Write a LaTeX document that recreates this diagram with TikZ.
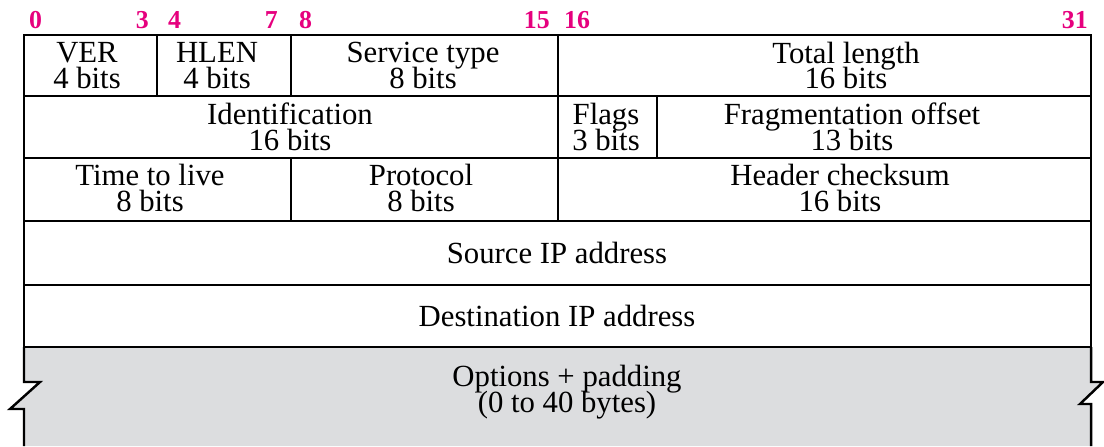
\documentclass[tikz,border=0pt]{standalone}
\usepackage{fontspec}
\setmainfont{Liberation Serif}
\definecolor{bitpink}{RGB}{230,0,126}
\definecolor{optgray}{RGB}{220,221,223}
\newcommand\fieldfont{\fontsize{17.5}{14.6}\selectfont\setlength{\lineskiplimit}{-100pt}}
\tikzset{
  field/.style={align=center, inner sep=0pt, font=\fieldfont},
  bitno/.style={inner sep=0pt, text=bitpink,
    font=\fontsize{14.7}{14.7}\selectfont\bfseries},
}
\begin{document}
\begin{tikzpicture}[x=0.02cm, y=-0.02cm, line width=1.4pt, line join=miter]
    \useasboundingbox (0,0) rectangle (1104,446);
    % options and padding (torn edges)
    \fill[optgray] (24,347) -- (1091,347) -- (1091,382) -- (1103,382) -- (1080,404) -- (1091,404)
        -- (1091,446) -- (24,446) -- (24,409) -- (10,409) -- (40,382) -- (24,382) -- cycle;
    \draw (24,347) -- (24,382) -- (40,382) -- (10,409) -- (24,409) -- (24,446);
    \draw (1091,347) -- (1091,382) -- (1103,382) -- (1080,404) -- (1091,404) -- (1091,446);
    % header words
    \draw (24,35) rectangle (1091,347);
    \draw (24,96) -- (1091,96);
    \draw (24,158) -- (1091,158);
    \draw (24,221) -- (1091,221);
    \draw (24,285) -- (1091,285);
    \draw (157,35) -- (157,96);
    \draw (291,35) -- (291,96);
    \draw (558,35) -- (558,221);
    \draw (657,96) -- (657,158);
    \draw (291,158) -- (291,221);
    % bit numbers
    \node[bitno, anchor=base west] (b0) at (28,29) {0};
    \node[bitno, anchor=base east] (b3) at (150,29) {3};
    \node[bitno, anchor=base west] (b4) at (167,29) {4};
    \node[bitno, anchor=base east] (b7) at (279,29) {7};
    \node[bitno, anchor=base west] (b8) at (298,29) {8};
    \node[bitno, anchor=base east] (b15) at (551,29) {15};
    \node[bitno, anchor=base west] (b16) at (563,29) {16};
    \node[bitno, anchor=base east] (b31) at (1089,29) {31};
    % fields
    \node[field] (ver) at (87,65.5) {VER\\4 bits};
    \node[field] (hlen) at (217,65.5) {HLEN\\4 bits};
    \node[field] (tos) at (423,65.5) {Service type\\8 bits};
    \node[field] (total) at (846,65.5) {Total length\\16 bits};
    \node[field] (ident) at (290,127) {Identification\\16 bits};
    \node[field] (flags) at (606,127) {Flags\\3 bits};
    \node[field] (frag) at (852,127) {Fragmentation offset\\13 bits};
    \node[field] (ttl) at (150,188) {Time to live\\8 bits};
    \node[field] (proto) at (421,188) {Protocol\\8 bits};
    \node[field] (csum) at (840,188) {Header checksum\\16 bits};
    \node[field] (src) at (557,253) {Source IP address};
    \node[field] (dst) at (557,316) {Destination IP address};
    \node[field] (opt) at (567,392) {Options + padding\\(0 to 40 bytes)};
\end{tikzpicture}
\end{document}
